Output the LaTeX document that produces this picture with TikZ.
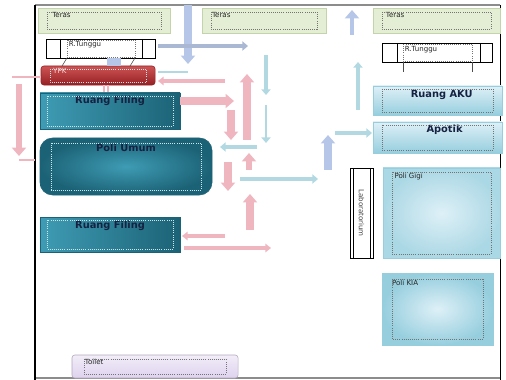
\documentclass[tikz,border=0pt]{standalone}
\usepackage{fontspec}
\setsansfont{DejaVu Sans}
\usetikzlibrary{arrows.meta}

\definecolor{terasfill}{RGB}{228,238,212}
\definecolor{terasline}{RGB}{196,212,170}
\definecolor{tealdark}{RGB}{28,98,118}
\definecolor{teallight}{RGB}{62,156,180}
\definecolor{ypkdark}{RGB}{150,32,36}
\definecolor{ypklight}{RGB}{205,84,84}
\definecolor{skydark}{RGB}{150,206,222}
\definecolor{skylight}{RGB}{222,240,247}
\definecolor{lilac}{RGB}{222,210,238}
\definecolor{arrowpink}{RGB}{240,182,192}
\definecolor{arrowcyan}{RGB}{178,216,226}
\definecolor{arrowlav}{RGB}{182,198,232}
\definecolor{navytext}{RGB}{22,34,66}

\newcommand{\tagfont}{\fontsize{5}{6}\selectfont\sffamily}
\newcommand{\titlefont}{\fontsize{7}{8}\selectfont\sffamily\bfseries}

\begin{document}
\begin{tikzpicture}[x=0.025cm, y=-0.025cm,
    room/.style={anchor=north west, inner sep=0pt, outer sep=0pt},
    tag/.style={font=\tagfont, text=black!85, inner sep=0pt},
    title/.style={font=\titlefont, text=navytext, inner sep=0pt},
    dotbox/.style={densely dotted, line width=0.5pt, black!55},
    dotlight/.style={densely dotted, line width=0.5pt, white!75!teallight},
    fatpink/.style={arrowpink, line width=5pt, -{Triangle[length=6pt,width=10pt]}},
    thinpink/.style={arrowpink, line width=2.2pt, -{Triangle[length=4pt,width=6pt]}},
    thincyan/.style={arrowcyan, line width=2.5pt, -{Triangle[length=4pt,width=6.5pt]}},
    fatlav/.style={arrowlav, line width=5pt, -{Triangle[length=6pt,width=10pt]}}]
  \useasboundingbox (0,0) rectangle (506,380);

  % frame
  \draw[black!45, line width=0.8pt] (35,5) -- (500,5);
  \draw[black!45, line width=0.8pt] (35,378) -- (500,378);
  \draw[line width=1pt] (35,5) -- (35,380);
  \draw[line width=0.6pt] (500,5) -- (500,380);

  % rooms
  \node[room, fill=terasfill, draw=terasline, minimum width=3.3cm, minimum height=0.625cm,
        label={[tag, anchor=north west, xshift=10pt, yshift=-3pt]north west:Teras}] (teras1) at (38,8) {};
  \node[room, fill=terasfill, draw=terasline, minimum width=3.1cm, minimum height=0.625cm,
        label={[tag, anchor=north west, xshift=7pt, yshift=-3pt]north west:Teras}] (teras2) at (202,8) {};
  \node[room, fill=terasfill, draw=terasline, minimum width=3.175cm, minimum height=0.625cm,
        label={[tag, anchor=north west, xshift=9pt, yshift=-3pt]north west:Teras}] (teras3) at (373,8) {};

  \node[room, draw, fill=white, minimum width=2.725cm, minimum height=0.475cm,
        label={[tag, anchor=north west, xshift=16pt, yshift=-1.5pt]north west:R.Tunggu}] (tunggu1) at (46,39) {};
  \node[room, draw, fill=white, minimum width=2.75cm, minimum height=0.475cm,
        label={[tag, anchor=north west, xshift=16pt, yshift=-2pt]north west:R.Tunggu}] (tunggu2) at (382,43) {};

  \node[room, top color=ypklight, bottom color=ypkdark, draw=ypkdark, rounded corners=2pt,
        minimum width=2.85cm, minimum height=0.475cm,
        label={[tag, text=white!85!red, anchor=north west, xshift=8.5pt, yshift=-1.5pt]north west:YPK}] (ypk) at (41,66) {};

  \node[room, left color=teallight, right color=tealdark, draw=tealdark,
        minimum width=3.5cm, minimum height=0.9cm,
        label={[title, anchor=north, yshift=-2pt]north:Ruang Filing}] (filing1) at (40,93) {};
  \node[room, inner color=teallight, outer color=tealdark, draw=tealdark, rounded corners=9pt,
        minimum width=4.3cm, minimum height=1.425cm,
        label={[title, anchor=north, yshift=-4pt]north:Poli Umum}] (umum) at (40,138) {};
  \node[room, left color=teallight, right color=tealdark, draw=tealdark,
        minimum width=3.5cm, minimum height=0.875cm,
        label={[title, anchor=north, yshift=-3pt]north:Ruang Filing}] (filing2) at (40,217) {};

  \node[room, top color=skylight, bottom color=skydark, draw=skydark,
        minimum width=3.225cm, minimum height=0.725cm,
        label={[title, anchor=north, xshift=3pt, yshift=-3pt]north:Ruang AKU}] (aku) at (373,86) {};
  \node[room, top color=skylight, bottom color=skydark, draw=skydark,
        minimum width=3.225cm, minimum height=0.775cm,
        label={[title, anchor=north, xshift=5pt, yshift=-2pt]north:Apotik}] (apotik) at (373,122) {};

  \node[room, draw, line width=0.6pt, fill=white,
        minimum width=0.575cm, minimum height=2.25cm] (lab) at (350,168) {};
  \draw[line width=0.6pt] ([shift={(3,0)}]lab.north west) -- ([shift={(3,0)}]lab.south west);
  \draw[line width=0.6pt] ([shift={(-3,0)}]lab.north east) -- ([shift={(-3,0)}]lab.south east);
  \node[tag, rotate=-90, text=black!75] (labtext) at (lab.center) {Laboratorium};
  \node[room, inner color=skylight, outer color=skydark!80, draw=skydark,
        minimum width=2.925cm, minimum height=2.25cm,
        label={[tag, anchor=north west, xshift=8pt, yshift=-3.5pt]north west:Poli Gigi}] (gigi) at (383,168) {};
  \node[room, inner color=skylight, outer color=skydark, draw=skydark,
        minimum width=2.775cm, minimum height=1.8cm,
        label={[tag, anchor=north west, xshift=7pt, yshift=-5pt]north west:Poli KIA}] (kia) at (382,273) {};

  \node[room, top color=white!60!lilac, bottom color=lilac, draw=lilac!80!black, rounded corners=2pt,
        minimum width=4.15cm, minimum height=0.575cm,
        label={[tag, anchor=north west, xshift=9pt, yshift=-3pt]north west:Toilet}] (toilet) at (72,355) {};

  % inner dotted frames
  \foreach \n/\dx/\dy in {teras1/9/4, teras2/9/4, teras3/9/4, aku/9/3, apotik/9/3, gigi/9/4, kia/10/6, toilet/12/4}
    \draw[dotbox] ([shift={(\dx,\dy)}]\n.north west) rectangle ([shift={(-\dx,-\dy)}]\n.south east);
  \foreach \n/\dx/\dy in {ypk/9/3, filing1/7/3, umum/11/5, filing2/7/3}
    \draw[dotlight] ([shift={(\dx,\dy)}]\n.north west) rectangle ([shift={(-\dx,-\dy)}]\n.south east);

  % waiting room bars
  \foreach \n/\a/\b in {tunggu1/14/96, tunggu2/15/98} {
    \draw ([shift={(\a,0)}]\n.north west) -- ([shift={(\a,0)}]\n.south west);
    \draw ([shift={(\b,0)}]\n.north west) -- ([shift={(\b,0)}]\n.south west);
  }
  \draw[dotbox] ([shift={(21,1)}]tunggu1.north west) rectangle ([shift={(89,-1)}]tunggu1.south west);
  \draw[dotbox] ([shift={(21,1)}]tunggu2.north west) rectangle ([shift={(90,-1)}]tunggu2.south west);
  \draw[black!70] ([shift={(21,0)}]tunggu1.south west) -- ([shift={(21,0)}]ypk.north west);
  \draw[black!70] ([shift={(89,0)}]tunggu1.south west) -- ([shift={(89,0)}]ypk.north west);
  \draw[black!70] ([shift={(21,0)}]tunggu2.south west) -- ++(0,10);
  \draw[black!70] ([shift={(90,0)}]tunggu2.south west) -- ++(0,10);
  \fill[arrowlav] (107,58) rectangle (121,66);
  \draw[arrowpink, line width=0.8pt] (104,85) -- (104,92) (108,85) -- (108,92);

  % flow arrows
  \draw[fatlav] (188,5) -- (188,64);
  \draw[thincyan, arrowlav!80!gray] (158,46) -- (248,46);
  \draw[fatlav, line width=3.5pt] (352,35) -- (352,10);
  \draw[arrowpink, line width=2pt] (12,77) -- (41,77);
  \draw[fatpink, line width=4pt] (19,84) -- (19,156);
  \draw[arrowpink, line width=2pt] (19,160) -- (35,160);
  \draw[arrowcyan, line width=2pt] (158,72) -- (188,72);
  \draw[thinpink] (225,81) -- (158,81);
  \draw[fatpink] (180,101) -- (234,101);
  \draw[fatpink] (247,140) -- (247,74);
  \draw[fatpink] (231,110) -- (231,140);
  \draw[thincyan] (266,55) -- (266,95);
  \draw[thincyan, line width=2pt] (266,105) -- (266,143);
  \draw[thincyan] (257,147) -- (220,147);
  \draw[fatpink, line width=4pt] (249,170) -- (249,153);
  \draw[fatpink] (228,162) -- (228,191);
  \draw[thincyan] (240,179) -- (318,179);
  \draw[fatpink] (250,230) -- (250,194);
  \draw[thinpink] (225,236) -- (182,236);
  \draw[thinpink] (184,248) -- (271,248);
  \draw[fatlav] (328,170) -- (328,135);
  \draw[thincyan] (335,133) -- (372,133);
  \draw[thincyan] (358,110) -- (358,62);
\end{tikzpicture}
\end{document}
